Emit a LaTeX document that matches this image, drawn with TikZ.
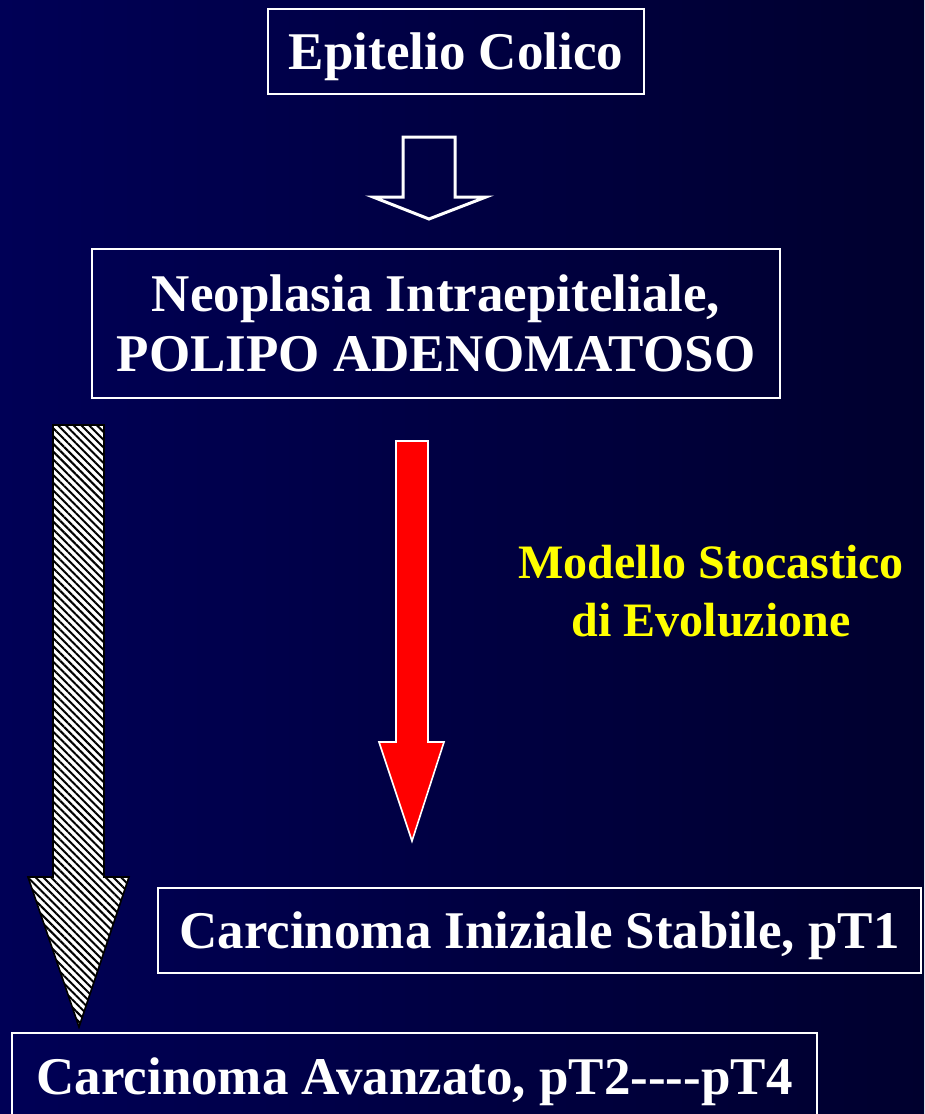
\documentclass[tikz,border=0pt]{standalone}
\usepackage{fontspec}
\setmainfont{Liberation Serif}
\usetikzlibrary{patterns.meta}
\definecolor{bgleft}{RGB}{0,0,86}
\definecolor{bgright}{RGB}{0,0,46}
\definecolor{txtyellow}{RGB}{255,255,0}
\begin{document}
\begin{tikzpicture}[x=1pt,y=-1pt,
  boxnode/.style={draw=white,line width=2pt,text=white,inner sep=0pt,font=\fontsize{53}{60}\selectfont\bfseries,align=center},
  hollowarrow/.style={draw=white,line width=3pt,fill=none,line join=miter},
  redarrow/.style={draw=white,line width=1.6pt,fill=red,line join=miter},
  hatcharrow/.style={draw=black,line width=1.6pt,preaction={fill=white},pattern={Lines[angle=-45,distance=5.5pt,line width=2pt]},pattern color=black,line join=miter},
  labeltext/.style={text=txtyellow,font=\fontsize{48}{58}\selectfont\bfseries,align=center}]
\useasboundingbox (0,0) rectangle (924,1114);
\clip (0,0) rectangle (924,1114);
\shade[left color=bgleft,right color=bgright] (0,0) rectangle (924,1114);
% boxes
\node[boxnode,minimum width=376pt,minimum height=85pt,text depth=0pt] (b1) at (456,51.5) {Epitelio Colico};
\node[boxnode,minimum width=688pt,minimum height=149pt] (b2) at (436,323.5) {Neoplasia Intraepiteliale,\\POLIPO ADENOMATOSO};
\node[boxnode,minimum width=763pt,minimum height=85pt,text depth=0pt] (b3) at (539.5,930.5) {Carcinoma Iniziale Stabile, pT1};
\node[boxnode,minimum width=805pt,minimum height=100pt] (b4) at (414.5,1083) {};
\node[text=white,font=\fontsize{53}{60}\selectfont\bfseries] (b4t) at (414.5,1082) {Carcinoma Avanzato, pT2-{}-{}-{}-pT4};
% hollow arrow
\draw[hollowarrow] (403,137) -- (455,137) -- (455,197) -- (486,197) -- (429,219) -- (373,197) -- (403,197) -- cycle;
% hatched arrow
\draw[hatcharrow] (53,425) -- (104,425) -- (104,877) -- (129,877) -- (79,1027) -- (28,877) -- (53,877) -- cycle;
% red arrow
\draw[redarrow] (396,441) -- (428,441) -- (428,742) -- (444,742) -- (412,841) -- (379,742) -- (396,742) -- cycle;
% label
\node[labeltext] (lab) at (711,591) {Modello Stocastico\\di Evoluzione};
\end{tikzpicture}
\end{document}
